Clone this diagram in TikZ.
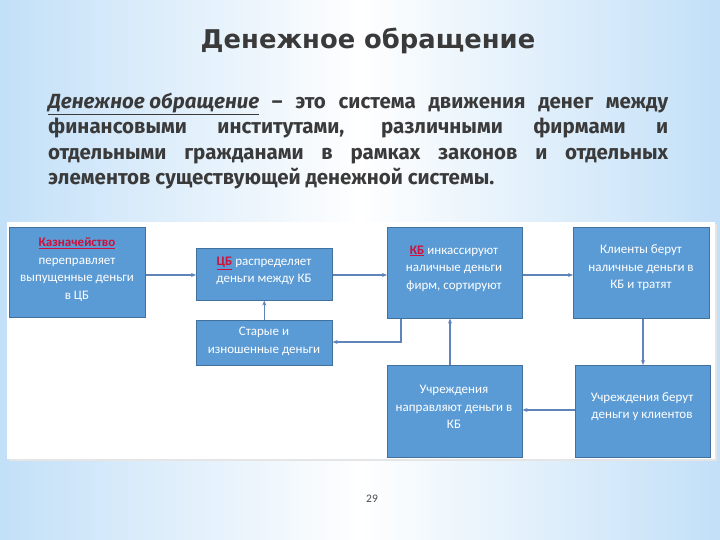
\documentclass[tikz,border=0pt]{standalone}
\usepackage{fontspec}
\setmainfont{Carlito}
\newfontfamily\titlefont{DejaVu Sans}
\newfontfamily\parafont{Fira Sans}
\usetikzlibrary{arrows.meta}
\definecolor{boxfill}{HTML}{5B9BD5}
\definecolor{boxline}{HTML}{41719C}
\definecolor{linkc}{HTML}{5E84BA}
\definecolor{redt}{HTML}{D0103A}
\definecolor{bgblue}{HTML}{A9D3F5}
\definecolor{txtgray}{HTML}{3A3A3A}
\tikzset{
  box/.style={draw=boxline,line width=0.6pt,fill=boxfill,inner sep=0pt,anchor=north west},
  boxtext/.style={text=white,align=center,font=\fontsize{13}{17.5}\selectfont,inner sep=0pt},
  link/.style={draw=linkc,line width=1.3pt,-{Stealth[length=5pt,width=4pt]}},
}
\newcommand{\redu}[1]{\textcolor{redt}{\underline{#1}}}
\begin{document}
\begin{tikzpicture}[x=1pt,y=-1pt]
\useasboundingbox (0,0) rectangle (720,540);
% background
\shade[left color=bgblue,right color=bgblue,middle color=white] (0,0) rectangle (720,540);
\fill[white,opacity=0.3] (0,0) rectangle (720,540);
% panel
\fill[black!10] (9,224) rectangle (717,461);
\fill[white] (7,222) rectangle (715,459);
% title
\node[font=\titlefont\bfseries\fontsize{25.8}{30}\selectfont,text=txtgray] (title) at (368,41) {Денежное обращение};
% paragraph
\node[anchor=north west,inner sep=0pt,text width=620pt,align=justify,text=txtgray,
  font=\parafont\bfseries\fontsize{20.5}{25.3}\selectfont] (para) at (48,93)
  {\textit{\underline{Денежное обращение}} – это система движения денег между финансовыми институтами, различными фирмами и отдельными гражданами в рамках законов и отдельных элементов существующей денежной системы.};
% boxes
\node[box,minimum width=136pt,minimum height=90pt] (kazn) at (9,227) {};
\node[box,minimum width=136pt,minimum height=52pt] (cb) at (196,248) {};
\node[box,minimum width=136pt,minimum height=45pt] (old) at (196,320) {};
\node[box,minimum width=135pt,minimum height=91pt] (kb) at (387,227) {};
\node[box,minimum width=136pt,minimum height=91pt] (cl) at (573,227) {};
\node[box,minimum width=135pt,minimum height=92pt] (inst) at (387,365) {};
\node[box,minimum width=135pt,minimum height=92pt] (instb) at (575,365) {};
% box texts
\node[boxtext] (kazn-t) at (77,269.5)
  {\redu{\textbf{Казначейство}}\\переправляет\\выпущенные деньги\\в ЦБ};
\node[boxtext] (cb-t) at (264,271) {\redu{\textbf{ЦБ}} распределяет\\деньги между КБ};
\node[boxtext] (old-t) at (264,341.5) {Старые и\\изношенные деньги};
\node[boxtext] (kb-t) at (454,268.5) {\redu{\textbf{КБ}} инкассируют\\наличные деньги\\фирм, сортируют};
\node[boxtext] (cl-t) at (641,268) {Клиенты берут\\наличные деньги в\\КБ и тратят};
\node[boxtext] (inst-t) at (454,407) {Учреждения\\направляют деньги в\\КБ};
\node[boxtext] (instb-t) at (642,406.5) {Учреждения берут\\деньги у клиентов};
% connectors
\coordinate (row) at (0,275);
\draw[link] (kazn.east |- row) -- (cb.west |- row);
\draw[link] (cb.east |- row) -- (kb.west |- row);
\draw[link] (kb.east |- row) -- (cl.west |- row);
\draw[link] (cl.south -| 643,0) -- (instb.north -| 643,0);
\draw[link] (instb.west |- 0,410) -- (inst.east |- 0,410);
\draw[link] (inst.north -| 450,0) -- (kb.south -| 450,0);
\coordinate (bend) at (401,342);
\draw[link] (kb.south -| bend) -- (bend) -- (old.east |- bend);
\draw[link] (old.north) -- (cb.south);
% page number
\node[font=\fontsize{11.5}{13}\selectfont,text=black!70] (pg) at (372,499) {29};
\end{tikzpicture}
\end{document}
